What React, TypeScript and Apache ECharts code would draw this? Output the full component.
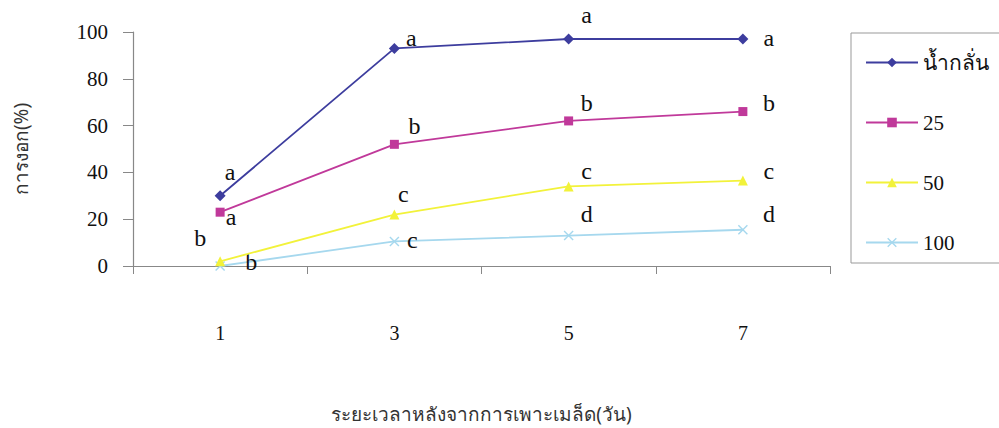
import React, { useEffect, useRef } from "react";
import * as echarts from "echarts";

const categories = ["1", "3", "5", "7"];
const seriesNames = ["น้ำกลั่น", "25", "50", "100"];
const distilled = [30, 93, 97, 97];
const conc25 = [23, 52, 62, 66];
const conc50 = [2, 22, 34, 36.5];
const conc100 = [0, 10.5, 13, 15.5];
const letters = [
  ["a", "a", "a", "a"],
  ["a", "b", "b", "b"],
  ["b", "c", "c", "c"],
  ["b", "c", "d", "d"],
];
const yTicks = [0, 20, 40, 60, 80, 100];

const labelOffsets = [
  [[10, -24], [17, -10], [18, -24], [26, -1]],
  [[11, 5], [20, -18], [18, -18], [26, -9]],
  [[-20, -23], [9, -21], [18, -15], [26, -10]],
  [[31, -4], [18, -1], [18, -22], [26, -16]],
];

const colors = ["#3d3d9e", "#c0399a", "#f2f23a", "#a6d8ee"];
const symbols = [
  "diamond",
  "rect",
  "triangle",
  "path://M0,1L1,0L5,4L9,0L10,1L6,5L10,9L9,10L5,6L1,10L0,9L4,5Z",
];
const symbolSizes = [11, 9, 10, 10];

const FONT = "Liberation Serif";
const THAI = "Noto Sans";

export default function App() {
  const ref = useRef<HTMLDivElement>(null);
  useEffect(() => {
    if (!ref.current) return;
    const chart = echarts.init(ref.current, null, { renderer: "svg" });
    const values = [distilled, conc25, conc50, conc100];
    chart.setOption({
      animation: false,
      backgroundColor: "#ffffff",
      textStyle: { fontFamily: FONT },
      grid: { left: 133, right: 169, top: 32, bottom: 160 },
      graphic: [
        {
          type: "rect",
          shape: { x: 851, y: 33, width: 160, height: 230 },
          style: { fill: "none", stroke: "#999999", lineWidth: 1 },
        },
      ],
      legend: {
        orient: "vertical",
        left: 860,
        top: 47,
        itemWidth: 52,
        itemHeight: 12,
        itemGap: 39,
        data: seriesNames,
        textStyle: { fontFamily: FONT, fontSize: 21, color: "#111" },
      },
      xAxis: {
        type: "category",
        data: categories,
        boundaryGap: true,
        name: "ระยะเวลาหลังจากการเพาะเมล็ด(วัน)",
        nameLocation: "middle",
        nameGap: 138,
        nameTextStyle: { fontSize: 19, color: "#333", fontFamily: THAI },
        axisLine: { lineStyle: { color: "#888", width: 1.2 } },
        axisTick: { show: true, length: 8, alignWithLabel: false, lineStyle: { color: "#888" } },
        axisLabel: { margin: 57, fontSize: 20, color: "#111", fontFamily: FONT },
      },
      yAxis: {
        type: "value",
        min: 0,
        max: 100,
        interval: 20,
        name: "การงอก(%)",
        nameLocation: "middle",
        nameGap: 103,
        nameRotate: 90,
        nameTextStyle: { fontSize: 19, color: "#333", fontFamily: THAI },
        axisLine: { show: true, lineStyle: { color: "#888", width: 1.2 } },
        axisTick: { show: true, length: 10, lineStyle: { color: "#888" } },
        splitLine: { show: false },
        axisLabel: {
          margin: 25,
          fontSize: 21,
          color: "#111",
          fontFamily: FONT,
          formatter: (v: number) => (yTicks.includes(v) ? String(v) : ""),
        },
      },
      series: values.map((vals, si) => ({
        name: seriesNames[si],
        type: "line",
        data: vals.map((v, i) => ({
          value: v,
          label: {
            show: true,
            position: "inside",
            offset: labelOffsets[si][i],
            formatter: letters[si][i],
            fontSize: 24,
            color: "#111",
            fontFamily: FONT,
          },
        })),
        symbol: symbols[si],
        symbolSize: symbolSizes[si],
        showAllSymbol: true,
        lineStyle: { color: colors[si], width: 1.8 },
        itemStyle: { color: colors[si] },
        z: 10 - si,
      })),
    });
    return () => chart.dispose();
  }, []);
  return <div ref={ref} style={{ width: 999, height: 428, position: "fixed", left: 0, top: 0 }} />;
}
